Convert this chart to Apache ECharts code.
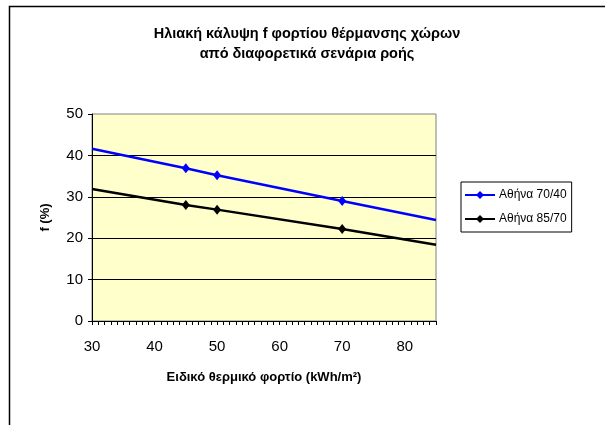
<!DOCTYPE html>
<html>
<head>
<meta charset="utf-8">
<script src="https://cdn.jsdelivr.net/npm/echarts@6/dist/echarts.min.js"></script>
<style>
html,body{margin:0;padding:0;background:#fff;}
#chart{width:605px;height:425px;}
</style>
</head>
<body>
<div id="chart"></div>
<script>
// ---- data ----
var titleText = 'Ηλιακή κάλυψη f φορτίου θέρμανσης χώρων\nαπό διαφορετικά σενάρια ροής';
var xAxisName = 'Ειδικό θερμικό φορτίο (kWh/m²)';
var yAxisName = 'f (%)';
var seriesNames = ['Αθήνα 70/40', 'Αθήνα 85/70'];
var loadValues = [30, 45, 50, 70, 85];
var athens7040 = [41.6, 36.9, 35.2, 29.0, 24.4];
var athens8570 = [31.9, 28.0, 26.9, 22.2, 18.4];
var markerShown = [false, true, true, true, false];
var seriesColors = ['#0000FF', '#000000'];

var FONT = '"Liberation Sans", Arial, sans-serif';

function buildData(vals) {
  return loadValues.map(function (x, i) {
    var item = { value: [x, vals[i]] };
    if (!markerShown[i]) item.symbol = 'none';
    return item;
  });
}

var chart = echarts.init(document.getElementById('chart'), null, { renderer: 'canvas' });
chart.setOption({
  backgroundColor: '#ffffff',
  animation: false,
  graphic: [
    {
      type: 'rect',
      shape: { x: 9.5, y: 6.5, width: 700, height: 500 },
      style: { fill: 'none', stroke: '#000', lineWidth: 1.5 },
      z: 100
    },
    {
      type: 'text',
      x: 307, y: 44,
      style: {
        text: titleText,
        font: 'bold 14.5px ' + FONT,
        fill: '#000',
        textAlign: 'center',
        textVerticalAlign: 'middle',
        lineHeight: 20
      }
    }
  ],
  grid: {
    left: 92, top: 114, width: 344, height: 207,
    show: true, backgroundColor: '#FFFFCC', borderColor: '#808080', borderWidth: 1,
    containLabel: false
  },
  legend: {
    orient: 'vertical',
    left: 461, top: 182,
    padding: [7, 5, 7, 3],
    itemWidth: 30, itemHeight: 10, itemGap: 12,
    borderColor: '#000', borderWidth: 1,
    backgroundColor: '#fff',
    textStyle: { fontFamily: FONT, fontSize: 12, color: '#000', padding: [0, 0, 0, -1] },
    data: seriesNames
  },
  xAxis: {
    type: 'value', min: 30, max: 85, interval: 10,
    name: xAxisName, nameLocation: 'middle', nameGap: 50,
    nameTextStyle: { fontFamily: FONT, fontSize: 13, fontWeight: 'bold', color: '#000' },
    axisLine: { show: true, lineStyle: { color: '#000', width: 1 } },
    axisTick: { show: true, length: 4, lineStyle: { color: '#000' } },
    minorTick: { show: true, splitNumber: 10, length: 4, lineStyle: { color: '#000' } },
    splitLine: { show: false },
    axisLabel: { fontFamily: FONT, fontSize: 15, color: '#000', margin: 18, showMaxLabel: false }
  },
  yAxis: {
    type: 'value', min: 0, max: 50, interval: 10,
    name: yAxisName, nameLocation: 'middle', nameGap: 40, nameRotate: 90,
    nameTextStyle: { fontFamily: FONT, fontSize: 13, fontWeight: 'bold', color: '#000' },
    axisLine: { show: true, lineStyle: { color: '#000', width: 1 } },
    axisTick: { show: true, length: 4, lineStyle: { color: '#000' } },
    splitLine: { show: true, showMinLine: false, showMaxLine: false, lineStyle: { color: '#000', width: 1 } },
    axisLabel: { fontFamily: FONT, fontSize: 15, color: '#000', margin: 9 }
  },
  series: [
    {
      name: seriesNames[0], type: 'line',
      data: buildData(athens7040),
      symbol: 'diamond', symbolSize: [8, 10],
      itemStyle: { color: seriesColors[0] },
      lineStyle: { color: seriesColors[0], width: 2.5 },
      z: 3
    },
    {
      name: seriesNames[1], type: 'line',
      data: buildData(athens8570),
      symbol: 'diamond', symbolSize: [8, 10],
      itemStyle: { color: seriesColors[1] },
      lineStyle: { color: seriesColors[1], width: 2.5 },
      z: 3
    }
  ]
});
</script>
</body>
</html>
